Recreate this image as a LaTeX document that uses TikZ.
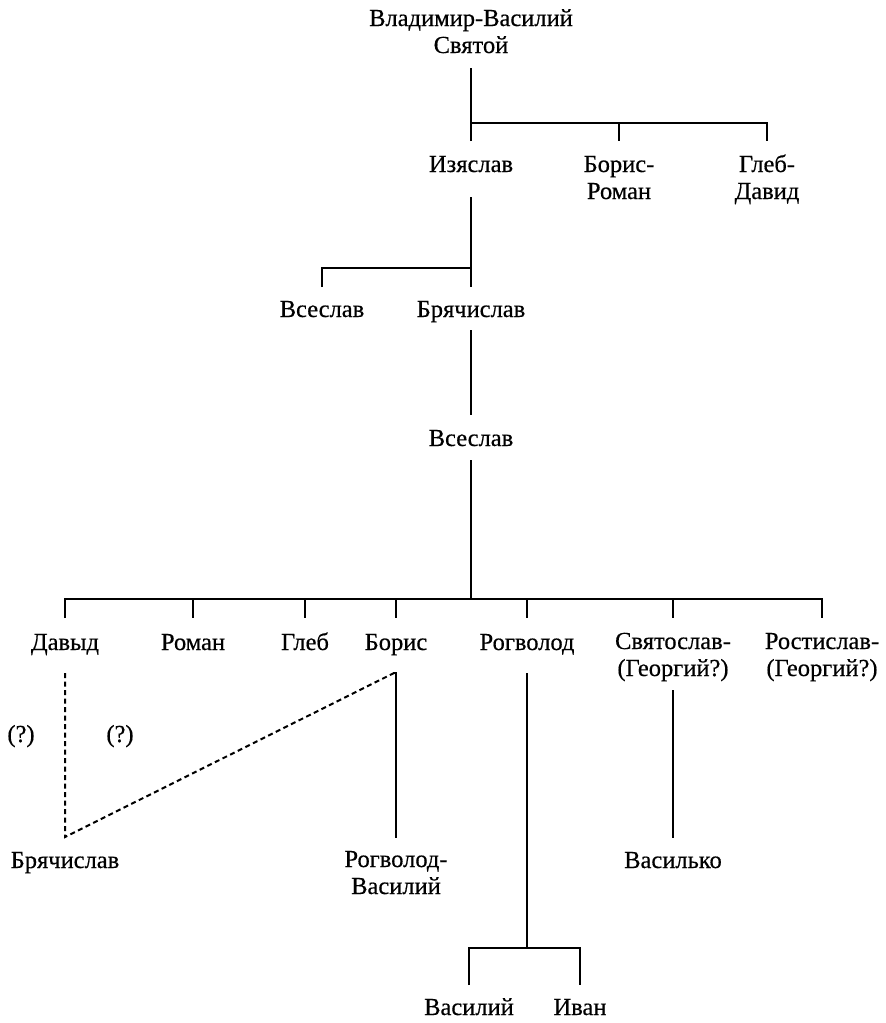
\documentclass[tikz,border=0pt]{standalone}
\usepackage{fontspec}
\setmainfont{Liberation Serif}[FakeBold=0.5]
\begin{document}
\begin{tikzpicture}[x=1pt,y=-1pt,
  person/.style={inner sep=0pt,outer sep=0pt,anchor=base,align=center,
    font=\fontsize{24.5}{27}\selectfont},
  tie/.style={line width=2pt,line cap=butt},
  unsure/.style={line width=2pt,dash pattern=on 5pt off 3.5pt}]
\useasboundingbox (0,0) rectangle (886,1023);
% nodes (multi-line nodes are placed at the baseline of their last line)
\node[person] (root) at (471,53) {Владимир-Василий\\Святой};
\node[person] (izj)   at (471,172) {Изяслав};
\node[person] (bor1)  at (619,199) {Борис-\\Роман};
\node[person] (gleb1) at (767,199) {Глеб-\\Давид};
\node[person] (vsl1)  at (322,317) {Всеслав};
\node[person] (brj1)  at (471,317) {Брячислав};
\node[person] (vsl2)  at (471,446) {Всеслав};
\node[person] (dav)   at (65,650) {Давыд};
\node[person] (rom)   at (193,650) {Роман};
\node[person] (gleb2) at (305,650) {Глеб};
\node[person] (bor2)  at (396,650) {Борис};
\node[person] (rog)   at (527,650) {Рогволод};
\node[person] (svt)   at (673,676) {Святослав-\\(Георгий?)};
\node[person] (rst)   at (822,676) {Ростислав-\\(Георгий?)};
\node[person] (q1)    at (21,742) {(?)};
\node[person] (q2)    at (120,742) {(?)};
\node[person] (brj2)  at (65,868) {Брячислав};
\node[person] (rogv)  at (396,894) {Рогволод-\\Василий};
\node[person] (vsk)   at (673,868) {Василько};
\node[person] (vas)   at (469,1015) {Василий};
\node[person] (ivan)  at (580,1015) {Иван};
% junctions
\coordinate (b1) at (471,123);
\coordinate (b2) at (471,268);
\coordinate (b4) at (471,599);
\coordinate (b6) at (527,948);
% generation 1
\draw[tie] (root.south |- 0,68) -- (b1);
\draw[tie] (izj.north |- 0,141) -- (izj.north |- b1) -- (gleb1.north |- b1) -- (gleb1.north |- 0,141);
\draw[tie] (bor1.north |- b1) -- (bor1.north |- 0,141);
% generation 2
\draw[tie] (izj.south |- 0,197) -- (b2);
\draw[tie] (vsl1.north |- 0,287) -- (vsl1.north |- b2) -- (brj1.north |- b2) -- (brj1.north |- 0,287);
% generation 3
\draw[tie] (brj1.south |- 0,330) -- (vsl2.north |- 0,415);
% generation 4
\draw[tie] (vsl2.south |- 0,460) -- (b4);
\draw[tie] (dav.north |- 0,618) -- (dav.north |- b4) -- (rst.north |- b4) -- (rst.north |- 0,618);
\foreach \c in {rom,gleb2,bor2,rog,svt}
  \draw[tie] (\c.north |- b4) -- (\c.north |- 0,618);
% generation 5
\coordinate (dtop) at (dav.south |- 0,673);
\coordinate (dbot) at (dav.south |- 0,837);
\coordinate (btop) at (bor2.south |- 0,673);
\draw[unsure] (dtop) -- (dbot) -- ([xshift=-2pt]btop);
\draw[tie] ([xshift=-3pt]btop) -- (btop) -- (rogv.north |- 0,838);
\draw[tie] (svt.south |- 0,690) -- (vsk.north |- 0,838);
\draw[tie] (rog.south |- 0,673) -- (b6);
\draw[tie] (vas.north |- 0,985) -- (vas.north |- b6) -- (ivan.north |- b6) -- (ivan.north |- 0,985);
\end{tikzpicture}
\end{document}
